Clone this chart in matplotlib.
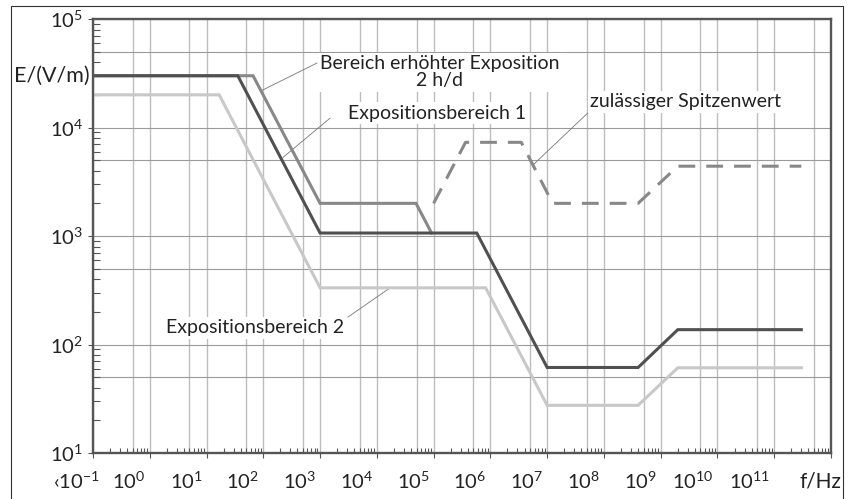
import matplotlib.pyplot as plt
from matplotlib.lines import Line2D
from matplotlib.ticker import LogLocator, NullFormatter

plt.rcParams['font.family'] = ['Lato', 'DejaVu Sans']
plt.rcParams['mathtext.fontset'] = 'custom'
plt.rcParams['mathtext.rm'] = 'Lato'
plt.rcParams['mathtext.it'] = 'Lato:italic'
plt.rcParams['mathtext.bf'] = 'Lato:bold'

# field strength limits E (V/m) over frequency f (Hz)
f_area1 = [0.1, 35.5, 1e3, 5.76e5, 1e7, 4e8, 2e9, 3e11]
e_area1 = [3e4, 3e4, 1.065e3, 1.065e3, 61.4, 61.4, 137, 137]

f_high = [0.1, 66, 1e3, 4.9e4, 9.2e4]
e_high = [3e4, 3e4, 2e3, 2e3, 1.065e3]

f_area2 = [0.1, 16.7, 1e3, 8.26e5, 1e7, 4e8, 2e9, 3e11]
e_area2 = [2e4, 2e4, 333, 333, 27.5, 27.5, 61, 61]

f_peak = [1e5, 3.65e5, 3.5e6, 1.25e7, 4e8, 2e9, 3e11]
e_peak = [2e3, 7.3e3, 7.3e3, 2e3, 2e3, 4.4e3, 4.4e3]

x_exponents = list(range(0, 12))
y_exponents = [1, 2, 3, 4, 5]

W, H = 851, 499
fig = plt.figure(figsize=(W / 100, H / 100), dpi=100)
ax = fig.add_axes([93 / W, 1 - 453 / H, (831 - 93) / W, (453 - 19) / H])
ax.set_xscale('log')
ax.set_yscale('log')
ax.set_xlim(1e-1, 1e12)
ax.set_ylim(1e1, 1e5)

# grid at 1x and 5x of every decade
for k in range(-1, 13):
    for m in (1, 5):
        ax.axvline(m * 10.0 ** k, color='#bdbdbd', lw=1.0, zorder=0.5)
for k in range(1, 6):
    for m in (1, 5):
        ax.axhline(m * 10.0 ** k, color='#9a9a9a', lw=0.8, zorder=0.5)

ax.plot(f_area2, e_area2, color='#c8c8c8', lw=2.2, zorder=3, solid_joinstyle='miter')
ax.plot(f_high, e_high, color='#888888', lw=2.2, zorder=3, solid_joinstyle='miter')
ax.plot(f_peak, e_peak, color='#888888', lw=2.2, zorder=3, linestyle=(0, (5.5, 3.6)))
ax.plot(f_area1, e_area1, color='#505050', lw=2.2, zorder=4, solid_joinstyle='miter')

# leader lines
leader = dict(color='#777777', lw=0.6, zorder=2)
ax.plot([883, 95], [3.93e4, 2.2e4], **leader)
ax.plot([1.5e3, 222], [1.22e4, 5.3e3], **leader)
ax.plot([6.4e7, 5.6e6], [1.51e4, 4.5e3], **leader)
ax.plot([3.1e3, 1.7e4], [179, 332], **leader)

box = dict(facecolor='white', edgecolor='none', pad=1.5)
tsize = 14
ax.text(1.29e5, 3.24e4, 'Bereich erhöhter Exposition\n2 h/d', ha='center', va='center',
        fontsize=tsize, color='#222222', bbox=box, zorder=5, linespacing=1.05)
ax.text(1.17e5, 1.36e4, 'Expositionsbereich 1', ha='center', va='center',
        fontsize=tsize, color='#222222', bbox=box, zorder=5)
ax.text(2.79e9, 1.72e4, 'zulässiger Spitzenwert', ha='center', va='center',
        fontsize=tsize, color='#222222', bbox=box, zorder=5)
ax.text(71, 142, 'Expositionsbereich 2', ha='center', va='center',
        fontsize=tsize, color='#222222', bbox=box, zorder=5)

# axes styling
for s in ax.spines.values():
    s.set_color('#555555')
    s.set_linewidth(1.7)
    s.set_zorder(6)

ax.xaxis.set_major_locator(LogLocator(base=10, numticks=20))
ax.xaxis.set_minor_locator(LogLocator(base=10, subs=range(2, 10), numticks=20))
ax.xaxis.set_major_formatter(NullFormatter())
ax.xaxis.set_minor_formatter(NullFormatter())
ax.tick_params(axis='x', which='major', direction='out', length=3.6, width=0.8, color='#555555')
ax.tick_params(axis='x', which='minor', direction='in', length=3.6, width=0.8, color='#555555')

ax.set_yticks([10.0 ** k for k in y_exponents])
ax.set_yticklabels(['$10^{%d}$' % k for k in y_exponents])
ax.yaxis.set_minor_locator(LogLocator(base=10, subs=range(2, 10), numticks=20))
ax.yaxis.set_minor_formatter(NullFormatter())
ax.tick_params(axis='y', which='major', direction='out', length=3.6, width=0.8,
               color='#555555', labelsize=14.5, pad=3.6, labelcolor='#222222')
ax.tick_params(axis='y', which='minor', direction='in', length=5, width=0.8, color='#555555')

# x labels, set right-aligned next to the decade ticks
for k in x_exponents:
    ax.annotate('$10^{%d}$' % k, xy=(10.0 ** k, 0), xycoords=('data', 'axes fraction'),
                xytext=(-4, -28), textcoords='offset pixels', ha='right', va='center',
                fontsize=14.5, color='#222222', annotation_clip=False)
ax.annotate('‹$10^{-1}$', xy=(0.1, 0), xycoords=('data', 'axes fraction'),
            xytext=(7, -28), textcoords='offset pixels', ha='right', va='center',
            fontsize=14.5, color='#222222', annotation_clip=False)
ax.annotate('f/Hz', xy=(1e12, 0), xycoords=('data', 'axes fraction'),
            xytext=(10, -29), textcoords='offset pixels', ha='right', va='center',
            fontsize=15, color='#222222', annotation_clip=False)
ax.annotate('E/(V/m)', xy=(0, 3e4), xycoords=('axes fraction', 'data'),
            xytext=(-3, 0), textcoords='offset pixels', ha='right', va='center',
            fontsize=15.5, color='#222222', annotation_clip=False)

# outer frame (left, top, right)
fx0, fx1, fy1 = 10.5 / W, 842.5 / W, 1 - 5.5 / H
fig.add_artist(Line2D([fx0, fx0, fx1, fx1], [0, fy1, fy1, 0], color='#333333', lw=0.8))

fig.savefig('out.png', dpi=100)
